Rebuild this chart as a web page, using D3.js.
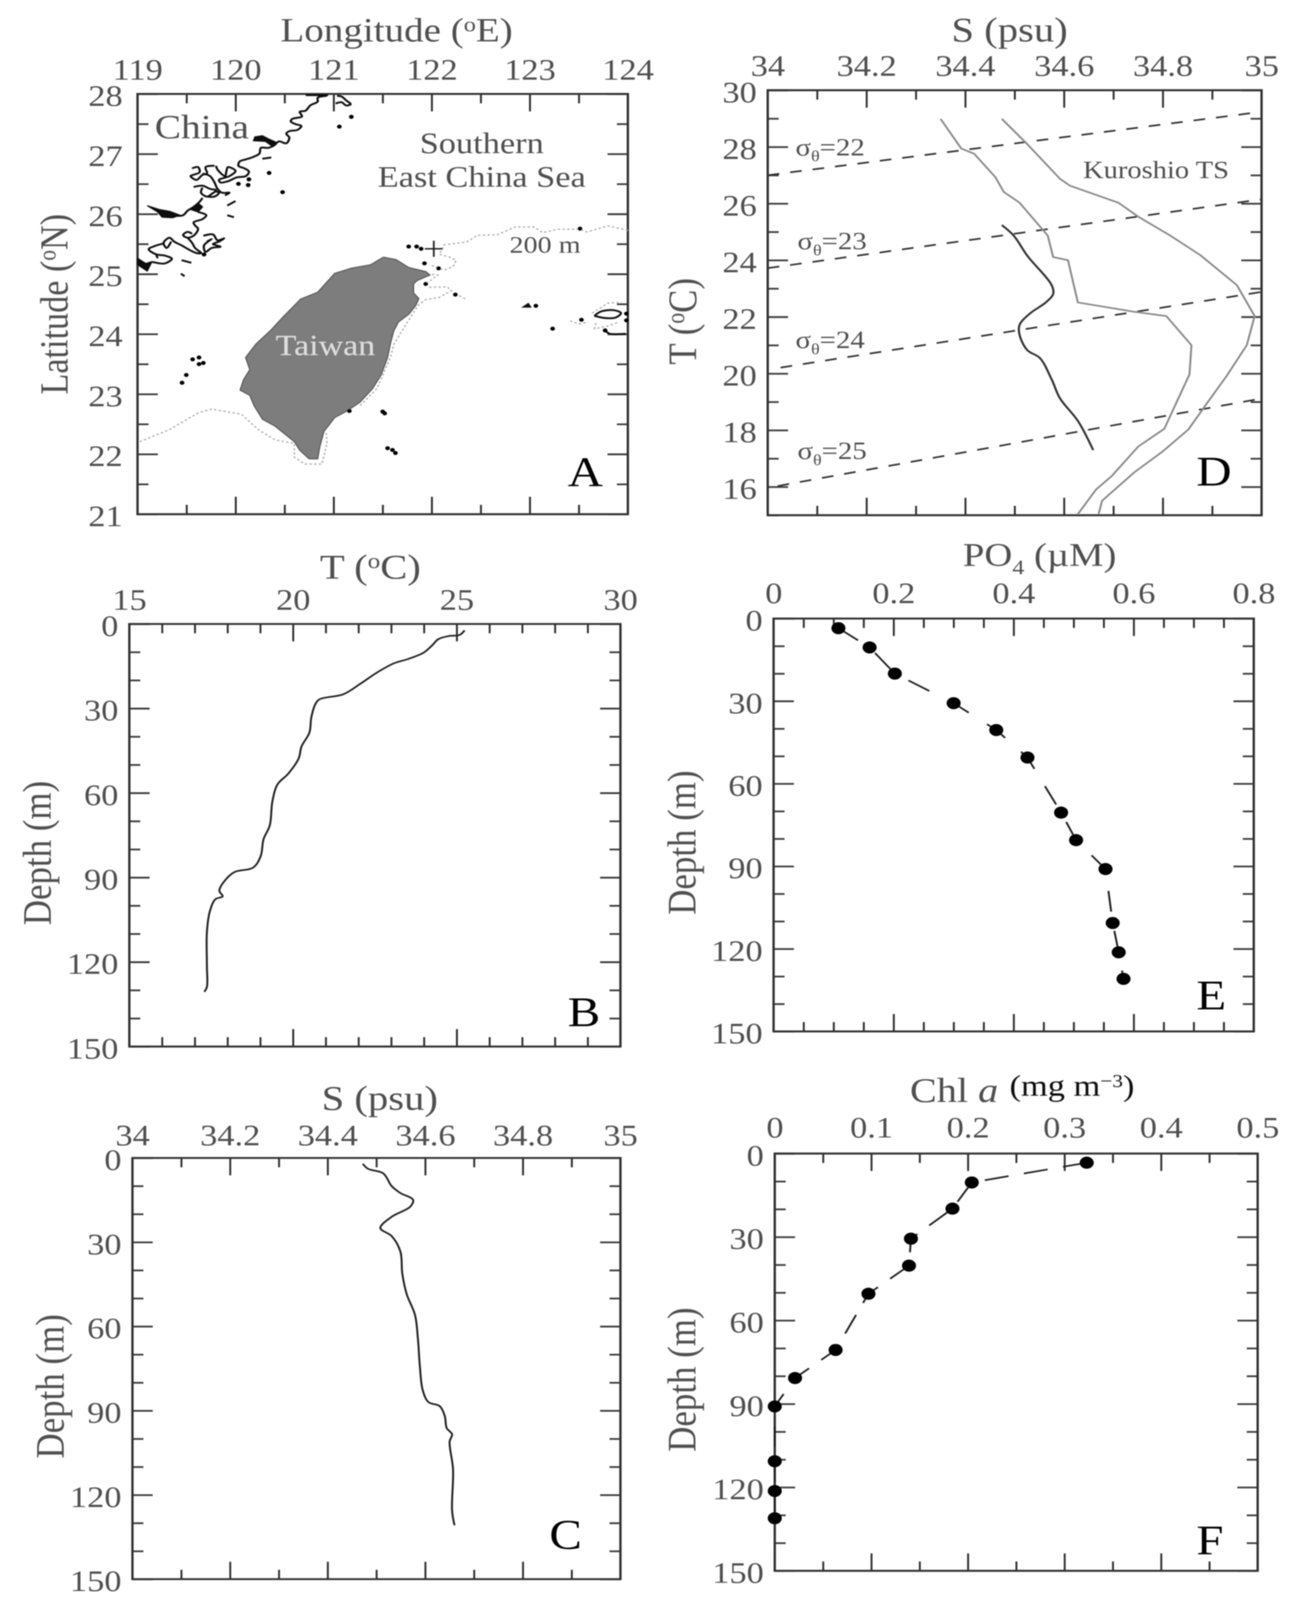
<!DOCTYPE html>
<html>
<head>
<meta charset="utf-8">
<script src="https://cdn.jsdelivr.net/npm/d3@7"></script>
<style>
  html, body { margin: 0; background: #fff; overflow: hidden; }
  svg { display: block; width: 100vw; height: 100vh; }
  text { font-family: "Liberation Serif", serif; fill: #505050; }
  .tick text { font-family: "Liberation Serif", serif; fill: #505050; }
</style>
</head>
<body>
<svg id="chart" viewBox="0 0 3312 4770" preserveAspectRatio="none"></svg>
<script>
// panel B, temperature profile
const tempT = [25.24,25.09,24.76,24.44,24.25,23.99,23.53,23.08,22.56,22.05,21.53,20.82,20.69,20.56,20.5,20.26,20.17,19.85,19.53,19.37,19.29,19.1,19.01,18.78,18.23,17.97,17.75,17.85,17.63,17.46,17.37,17.37,17.37,17.29];
const tempDepth = [2.3,3.9,4.3,5.4,7.6,10.2,12.4,14,17.3,21.3,25,26.7,28.3,33.1,38.6,43.5,47.8,53.2,56.9,63,71.5,76.4,82.5,86.5,88,90.4,94.7,96.7,97.7,102,109.3,121.5,128.8,130.6];

// panel C, salinity profile
const salS = [34.472,34.483,34.514,34.531,34.549,34.575,34.569,34.531,34.508,34.531,34.549,34.553,34.562,34.579,34.585,34.589,34.595,34.607,34.629,34.64,34.644,34.655,34.65,34.657,34.655,34.66];
const salDepth = [2.1,3.9,5.5,10,12.5,14.9,17.4,21,25,27.8,33.3,41.2,48.5,55.9,64.4,74.2,82.8,87,88.3,91.9,96.2,98.4,101,110.9,125.5,130.8];

// panel D, TS curves
const tsStationS = [34.474,34.498,34.526,34.575,34.578,34.563,34.531,34.51,34.51,34.526,34.551,34.575,34.592,34.628,34.659];
const tsStationT = [25.24,24.87,24.15,23.12,22.81,22.51,22.12,21.72,21.36,20.82,20.55,19.79,19.12,18.33,17.3];
const kuroInnerS = [34.35,34.392,34.418,34.461,34.478,34.51,34.567,34.578,34.608,34.628,34.742,34.807,34.858,34.854,34.803,34.75,34.697,34.665,34.628];
const kuroInnerT = [28.99,27.94,27.76,26.93,26.41,26.03,24.87,24.11,24,22.51,22.18,22.03,21,19.97,18.05,17.42,16.39,15.91,15.04];
const kuroOuterS = [34.474,34.526,34.592,34.612,34.71,34.75,34.815,34.876,34.95,34.986,34.97,34.929,34.889,34.852,34.799,34.742,34.677,34.67];
const kuroOuterT = [28.99,28.09,26.87,26.63,26.03,25.54,24.87,24.18,23.12,22.03,21,19.91,18.94,18.03,17.24,16.51,15.51,15.04];
const isoS = [[34,35],[34,35],[34.026,35],[34.02,35]];
const isoT = [[27,29.24],[23.72,26.15],[20.21,22.88],[16.03,19.12]];

// panel E, phosphate
const po4 = [0.108,0.16,0.202,0.3,0.371,0.423,0.479,0.504,0.553,0.565,0.575,0.583];
const po4Depth = [3.5,10.5,20,30.75,40.5,50.5,70.5,80.5,91,110.6,121.25,130.9];

// panel F, chlorophyll
const chl = [0.323,0.204,0.184,0.141,0.139,0.097,0.063,0.021,0,0,0,0];
const chlDepth = [3.3,10.4,19.8,30.6,40.3,50.4,70.6,80.7,90.9,110.6,121.3,131.1];

// panel A, map in lon/lat
const taiwanLon = [121.506,121.636,121.766,121.939,121.982,121.85,121.815,121.815,121.869,121.838,121.768,121.66,121.613,121.582,121.55,121.485,121.398,121.269,121.139,121.01,120.901,120.858,120.837,120.75,120.655,120.599,120.404,120.275,120.188,120.145,120.046,120.08,120.145,120.102,120.21,120.361,120.491,120.664,120.837,121.01,121.182,121.377];
const taiwanLat = [25.281,25.241,25.109,25.041,24.983,24.89,24.835,24.686,24.592,24.481,24.332,24.2,24.053,23.866,23.61,23.323,23.094,22.866,22.722,22.608,22.379,22.121,21.921,21.921,22.064,22.207,22.465,22.579,22.808,22.98,23.066,23.238,23.409,23.61,23.839,24.068,24.297,24.583,24.697,25.012,25.098,25.155];
const isobaths = [
  [[119.022,22.207],[119.324,22.408],[119.627,22.694],[119.756,22.751],[120.059,22.665],[120.232,22.408],[120.405,22.236],[120.599,22.179],[120.599,21.95],[120.707,21.835],[120.88,21.835],[120.932,22.179],[120.923,22.379]],
  [[124,25.728],[123.876,25.775],[123.799,25.803],[123.582,25.7],[123.512,25.747],[123.287,25.747],[123.132,25.691],[123.039,25.784],[122.853,25.784],[122.667,25.654],[122.466,25.645],[122.357,25.533],[122.125,25.486],[122.109,25.43],[122.078,25.328],[122.187,25.281],[122.249,25.226],[122.218,25.123],[122.132,25.067],[122.063,25.095],[121.977,25.16]],
  [[121.954,25.002],[122.063,24.983],[121.985,24.89],[121.931,24.835],[121.985,24.779],[122.156,24.788],[122.202,24.723],[122.078,24.611],[121.939,24.574],[121.861,24.481],[121.69,24.034],[121.613,23.829],[121.582,23.624],[121.442,23.094],[121.269,22.808]],
  [[123.411,24.22],[123.5,24.17],[123.597,24.2]],
  [[123.636,24.35],[123.8,24.518],[123.94,24.527]],
  [[123.674,24.183],[123.66,24.09],[123.783,24.127],[123.907,24.2]],
  [[122.28,24.64],[122.349,24.58]]
];
const chinaCoast = [
  [[120.929,27.968],[120.837,27.936],[120.837,27.872],[120.761,27.808],[120.715,27.722],[120.654,27.701],[120.677,27.626],[120.578,27.583],[120.563,27.54],[120.609,27.498],[120.67,27.466],[120.631,27.401],[120.548,27.38],[120.517,27.337],[120.548,27.273],[120.517,27.177],[120.441,27.209],[120.395,27.145],[120.334,27.102],[120.258,27.102],[120.243,27.006],[120.182,26.952],[120.105,26.91],[120.044,26.878],[120.029,26.803],[120.09,26.76],[120.136,26.707],[120.105,26.632],[120.014,26.61],[119.922,26.546],[119.846,26.525],[119.831,26.568],[119.938,26.632],[119.999,26.717],[119.922,26.781],[119.907,26.717],[119.892,26.632],[119.816,26.739],[119.8,26.803]],
  [[119.556,26.76],[119.617,26.781],[119.633,26.696],[119.572,26.653],[119.541,26.632],[119.602,26.568],[119.663,26.653],[119.709,26.674],[119.694,26.781],[119.785,26.803]],
  [[119.663,26.674],[119.739,26.632],[119.785,26.525],[119.816,26.418],[119.861,26.354],[119.938,26.354],[119.892,26.311]],
  [[119.572,26.45],[119.663,26.471],[119.739,26.418],[119.8,26.396],[119.755,26.332],[119.709,26.29],[119.648,26.354],[119.663,26.439]],
  [[119.8,26.375],[119.831,26.354],[119.785,26.29],[119.709,26.29]],
  [[119.663,26.268],[119.633,26.204],[119.572,26.119],[119.51,26.054],[119.465,25.98],[119.389,25.969]],
  [[119.617,26.033],[119.701,25.98],[119.663,25.915],[119.572,25.862],[119.587,25.808],[119.617,25.755],[119.579,25.648],[119.51,25.605],[119.465,25.648],[119.51,25.702],[119.556,25.67]],
  [[119.51,25.605],[119.556,25.52],[119.587,25.434],[119.648,25.349],[119.602,25.349],[119.541,25.392],[119.45,25.477],[119.373,25.541],[119.327,25.605],[119.266,25.52],[119.297,25.434],[119.343,25.541]],
  [[119.266,25.509],[119.175,25.466],[119.114,25.413],[119.19,25.328],[119.282,25.306],[119.35,25.253],[119.282,25.178],[119.221,25.178],[119.145,25.199],[119.083,25.156]],
  [[119.19,25.328],[119.205,25.263]],
  [[119.671,25.637],[119.77,25.659],[119.815,25.563],[119.884,25.595],[119.831,25.541],[119.77,25.499],[119.846,25.456],[119.755,25.434],[119.694,25.37],[119.678,25.477],[119.755,25.584],[119.709,25.541]],
  [[119.449,25.231],[119.549,25.188]],
  [[119.915,26.14],[119.999,26.215]],
  [[119.915,25.98],[119.983,25.947]],
  [[119.442,25.007],[119.48,24.964]],
  [[120.273,26.92],[120.364,26.942]],
  [[121.035,27.968],[121.081,27.957],[121.127,27.893],[121.173,27.829],[121.127,27.808],[121.081,27.861],[121.02,27.84]],
  [[120.715,27.979],[120.944,27.979]],
  [[123.659,24.304],[123.729,24.378],[123.861,24.397],[123.93,24.35],[123.876,24.276],[123.768,24.267],[123.659,24.304]],
  [[123.768,24.062],[123.814,24.006],[123.977,24.006]]
];
const chinaBlobs = [
  [[120.182,27.22],[120.197,27.284],[120.273,27.305],[120.334,27.252],[120.41,27.198],[120.38,27.123],[120.304,27.209]],
  [[119.099,26.14],[119.221,26.076],[119.328,26.044],[119.434,25.98],[119.358,25.937],[119.251,25.947],[119.205,26.033]],
  [[119.541,26.076],[119.617,26.183],[119.663,26.119],[119.617,26.033]],
  [[119,25.263],[119.083,25.178],[119.145,25.199],[119.099,25.05],[119.038,25.114],[119,25.156]],
  [[122.93,24.45],[122.985,24.51],[123.01,24.45]]
];
const islandsLon = [120.342,120.479,120.029,120.128,120.136,121.18,121.058,119.678,121.765,121.846,121.892,121.926,123.512,122.241,123.233,123.527,123.062,123.768,122.07,121.939,123.985,123.985,119.562,119.627,119.671,119.627,119.497,119.454,121.5,121.52,121.55,121.6,121.63,121.16];
const islandsLat = [26.685,26.364,26.503,26.482,26.578,27.619,27.455,25.327,25.458,25.458,25.421,25.179,25.756,24.658,24.09,24.239,24.471,24.062,25.095,24.835,24.341,24.229,23.58,23.61,23.52,23.5,23.32,23.19,22.71,22.68,22.1,22.07,22.02,22.72];
const crossLon = 122.021;
const crossLat = 25.421;

const svg = d3.select("#chart");
const defs = svg.append("defs");
defs.append("filter").attr("id", "soft")
  .attr("filterUnits", "userSpaceOnUse")
  .attr("x", 0).attr("y", 0).attr("width", 3312).attr("height", 4770)
  .append("feGaussianBlur").attr("stdDeviation", 1.8);
const root = svg.append("g").attr("filter", "url(#soft)");

const frameColor = "#333";
const tickFont = 88;

function panel(o) {
  const g = root.append("g");
  const x = d3.scaleLinear().domain(o.xDomain).range([o.left, o.right]);
  const y = d3.scaleLinear().domain(o.yDomain).range([o.top, o.bottom]);

  // inward ticks on all four sides, long then short
  const marks = [
    [d3.axisBottom, x, o.top, "x"], [d3.axisTop, x, o.bottom, "x"],
    [d3.axisRight, y, o.left, "y"], [d3.axisLeft, y, o.right, "y"]
  ];
  marks.forEach(([axis, scale, pos, kind]) => {
    const major = kind === "x" ? o.xMajor : o.yMajor;
    const minor = kind === "x" ? o.xMinor : o.yMinor;
    [[major, 52], [minor, 28]].forEach(([vals, len]) => {
      const a = g.append("g")
        .attr("transform", kind === "x" ? `translate(0,${pos})` : `translate(${pos},0)`)
        .call(axis(scale).tickValues(vals).tickSize(len).tickSizeOuter(0).tickFormat(""));
      a.select(".domain").remove();
      a.selectAll("line").attr("stroke", frameColor).attr("stroke-width", 5);
    });
  });

  // tick labels
  const topLabels = g.append("g").attr("transform", `translate(0,${o.top})`)
    .call(d3.axisTop(x).tickValues(o.xMajor).tickSize(0).tickPadding(o.xPad).tickFormat(d => d3.format("~g")(d)));
  const leftLabels = g.append("g").attr("transform", `translate(${o.left},0)`)
    .call(d3.axisLeft(y).tickValues(o.yMajor).tickSize(0).tickPadding(o.yPad).tickFormat(d => d3.format("~g")(d)));
  [topLabels, leftLabels].forEach(a => {
    a.select(".domain").remove();
    a.attr("font-family", null);
    a.selectAll("text").attr("font-size", tickFont);
  });
  leftLabels.selectAll("text").attr("dy", "0.4em");

  g.append("rect").attr("x", o.left).attr("y", o.top)
    .attr("width", o.right - o.left).attr("height", o.bottom - o.top)
    .attr("fill", "none").attr("stroke", frameColor).attr("stroke-width", 6);

  g.append("text").attr("x", o.letter[0]).attr("y", o.letter[1])
    .attr("font-size", 125).style("fill", "#000").text(o.name);
  return { g, x, y };
}

// text with a raised or lowered small part: pieces are [string, shift]
function rich(sel, pieces, size) {
  let back = 0;
  pieces.forEach(([s, shift]) => {
    const t = sel.append("tspan").text(s);
    if (shift) t.attr("font-size", size * 0.62).attr("dy", shift * size + back);
    else t.attr("dy", back);
    back = shift ? -shift * size : 0;
  });
}

function title(p, px, py, pieces, size, rotate) {
  const t = p.g.append("text").attr("font-size", size).attr("text-anchor", "middle")
    .attr("transform", `translate(${px},${py})` + (rotate ? " rotate(-90)" : ""));
  rich(t, pieces, size);
  return t;
}

function note(p, px, py, str, size, anchor) {
  return p.g.append("text").attr("x", px).attr("y", py).attr("font-size", size)
    .attr("text-anchor", anchor || "start").text(str);
}

const rangeBy = (a, b, step) => d3.range(Math.round((b - a) / step) + 1).map(i => +(a + i * step).toFixed(3));
const without = (all, major) => all.filter(v => !major.includes(v));

function drawLine(p, xs, ys, stroke, width, dash, curve) {
  const line = d3.line().x(i => p.x(xs[i])).y(i => p.y(ys[i])).curve(curve || d3.curveLinear);
  const path = p.g.append("path").attr("d", line(d3.range(xs.length)))
    .attr("fill", "none").attr("stroke", stroke).attr("stroke-width", width)
    .attr("stroke-linejoin", "round");
  if (dash) path.attr("stroke-dasharray", dash);
}

function drawDots(p, xs, ys, r) {
  p.g.selectAll(null).data(d3.range(xs.length)).join("circle")
    .attr("cx", i => p.x(xs[i])).attr("cy", i => p.y(ys[i])).attr("r", r).attr("fill", "#000");
}

const depthMajor = rangeBy(0, 150, 30);
const depthMinor = without(rangeBy(0, 150, 10), depthMajor);
const smooth = d3.curveCatmullRom.alpha(0.5);

// A
const lonMajor = rangeBy(119, 124, 1);
const latMajor = rangeBy(21, 28, 1);
const pA = panel({ name: "A", letter: [1453, 1450], left: 352, right: 1607, top: 280, bottom: 1533,
  xPad: 42, yPad: 38,
  xDomain: [119, 124], yDomain: [28, 21],
  xMajor: lonMajor, xMinor: without(rangeBy(119, 124, 0.5), lonMajor),
  yMajor: latMajor, yMinor: without(rangeBy(21, 28, 0.5), latMajor) });
const geoLine = d3.line().x(d => pA.x(d[0])).y(d => pA.y(d[1]));
isobaths.forEach(b => pA.g.append("path").attr("d", geoLine(b)).attr("fill", "none")
  .attr("stroke", "#a8a8a8").attr("stroke-width", 3.5).attr("stroke-dasharray", "6,6"));
pA.g.append("path").attr("d", geoLine(d3.zip(taiwanLon, taiwanLat)) + "Z").attr("fill", "#7d7d7d").attr("stroke", "#555").attr("stroke-width", 3);
chinaCoast.forEach(c => pA.g.append("path").attr("d", geoLine.curve(d3.curveCatmullRom)(c)).attr("fill", "none")
  .attr("stroke", "#111").attr("stroke-width", 5.5).attr("stroke-linejoin", "round"));
geoLine.curve(d3.curveLinear);
chinaBlobs.forEach(c => pA.g.append("path").attr("d", geoLine(c) + "Z").attr("fill", "#111").attr("stroke", "#111").attr("stroke-width", 3));
drawDots(pA, islandsLon, islandsLat, 6);
[[-23, 0, 23, 0], [0, -24, 0, 24]].forEach(([a, b, c, d]) => pA.g.append("line")
  .attr("x1", pA.x(crossLon) + a).attr("y1", pA.y(crossLat) + b)
  .attr("x2", pA.x(crossLon) + c).attr("y2", pA.y(crossLat) + d)
  .attr("stroke", "#222").attr("stroke-width", 4.5));
title(pA, 1015, 123, [["Longitude (", 0], ["o", -0.3], ["E)", 0]], 100);
title(pA, 173, 907, [["Latitude (", 0], ["o", -0.3], ["N)", 0]], 102, true);
note(pA, 396, 412, "China", 101);
note(pA, 1233, 456, "Southern", 88, "middle");
note(pA, 1233, 557, "East China Sea", 88, "middle");
note(pA, 1304, 753, "200 m", 72);
note(pA, 833, 1059, "Taiwan", 87, "middle").style("fill", "#dedede");

// B
const tMajor = rangeBy(15, 30, 5);
const pB = panel({ name: "B", letter: [1453, 3059], left: 331, right: 1588, top: 1860, bottom: 3120,
  xPad: 42, yPad: 28,
  xDomain: [15, 30], yDomain: [0, 150],
  xMajor: tMajor, xMinor: without(rangeBy(15, 30, 1), tMajor), yMajor: depthMajor, yMinor: depthMinor });
drawLine(pB, tempT, tempDepth, "#222", 5, null, smooth);
title(pB, 948, 1725, [["T (", 0], ["o", -0.3], ["C)", 0]], 104);
title(pB, 130, 2543, [["Depth (m)", 0]], 104, true);

// C
const sMajor = rangeBy(34, 35, 0.2);
const sMinor = without(rangeBy(34, 35, 0.1), sMajor);
const pC = panel({ name: "C", letter: [1406, 4618], left: 339, right: 1588, top: 3452, bottom: 4708,
  xPad: 38, yPad: 28,
  xDomain: [34, 35], yDomain: [0, 150],
  xMajor: sMajor, xMinor: sMinor, yMajor: depthMajor, yMinor: depthMinor });
drawLine(pC, salS, salDepth, "#222", 5, null, smooth);
title(pC, 972, 3308, [["S (psu)", 0]], 104);
title(pC, 163, 4133, [["Depth (m)", 0]], 104, true);

// D
const tsMajor = rangeBy(16, 30, 2);
const pD = panel({ name: "D", letter: [3062, 1448], left: 1965, right: 3229, top: 269, bottom: 1536,
  xPad: 43, yPad: 28,
  xDomain: [34, 35], yDomain: [30, 15],
  xMajor: sMajor, xMinor: sMinor, yMajor: tsMajor, yMinor: without(rangeBy(15, 30, 1), tsMajor) });
isoS.forEach((s, i) => drawLine(pD, s, isoT[i], "#333", 5, "30,28"));
drawLine(pD, kuroInnerS, kuroInnerT, "#8a8a8a", 5);
drawLine(pD, kuroOuterS, kuroOuterT, "#8a8a8a", 5);
drawLine(pD, tsStationS, tsStationT, "#333", 5.5, null, smooth);
title(pD, 2584, 123, [["S (psu)", 0]], 104);
title(pD, 1782, 958, [["T (", 0], ["o", -0.3], ["C)", 0]], 104, true);
note(pD, 2772, 531, "Kuroshio TS", 73);
[["22", 2036, 463], ["23", 2041, 743], ["24", 2036, 1038], ["25", 2041, 1368]].forEach(([v, px, py]) => {
  const t = pD.g.append("text").attr("x", px).attr("y", py).attr("font-size", 74);
  rich(t, [["σ", 0], ["θ", 0.25], ["=" + v, 0]], 74);
});

// E
const poMajor = rangeBy(0, 0.8, 0.2);
const pE = panel({ name: "E", letter: [3062, 3009], left: 1980, right: 3209, top: 1844, bottom: 3075,
  xPad: 46, yPad: 28,
  xDomain: [0, 0.8], yDomain: [0, 150],
  xMajor: poMajor, xMinor: without(rangeBy(0, 0.8, 0.05), poMajor), yMajor: depthMajor, yMinor: depthMinor });
drawLine(pE, po4, po4Depth, "#222", 5, "62,58");
drawDots(pE, po4, po4Depth, 18);
title(pE, 2661, 1687, [["PO", 0], ["4", 0.25], [" (µM)", 0]], 99);
title(pE, 1780, 2512, [["Depth (m)", 0]], 104, true);

// F
const chlMajor = rangeBy(0, 0.5, 0.1);
const pF = panel({ name: "F", letter: [3062, 4634], left: 1983, right: 3219, top: 3439, bottom: 4683,
  xPad: 48, yPad: 28,
  xDomain: [0, 0.5], yDomain: [0, 150],
  xMajor: chlMajor, xMinor: without(rangeBy(0, 0.5, 0.05), chlMajor), yMajor: depthMajor, yMinor: depthMinor });
drawLine(pF, chl, chlDepth, "#222", 5, "62,40");
drawDots(pF, chl, chlDepth, 18);
const chlTitle = pF.g.append("text").attr("x", 2329).attr("y", 3285).attr("font-size", 103);
chlTitle.append("tspan").text("Chl ");
chlTitle.append("tspan").attr("font-style", "italic").text("a");
const chlUnit = pF.g.append("text").attr("x", 2584).attr("y", 3267).attr("font-size", 88).style("fill", "#111");
rich(chlUnit, [["(mg  m", 0], ["−3", -0.3], [")", 0]], 88);
title(pF, 1780, 4113, [["Depth (m)", 0]], 104, true);
</script>
</body>
</html>
